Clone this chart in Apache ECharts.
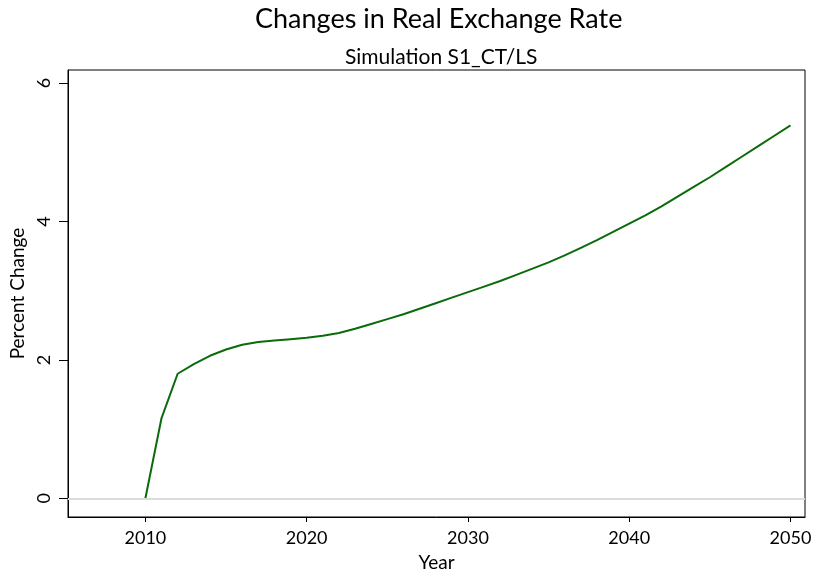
<!DOCTYPE html>
<html>
<head>
<meta charset="utf-8">
<script src="https://cdn.jsdelivr.net/npm/echarts@6/dist/echarts.min.js"></script>
<style>
  html, body { margin: 0; padding: 0; background: #fff; }
  #chart { width: 814px; height: 569px; }
</style>
</head>
<body>
<div id="chart"></div>
<script>
// years 2010..2050
var years = [];
for (var y = 2010; y <= 2050; y++) years.push(y);

// percent change
var rerChange = [
  0, 1.16, 1.80, 1.94, 2.06, 2.15, 2.22, 2.26, 2.28, 2.30,
  2.32, 2.35, 2.39, 2.45, 2.52, 2.59, 2.66, 2.74, 2.82, 2.90,
  2.98, 3.06, 3.14, 3.23, 3.32, 3.41, 3.51, 3.62, 3.73, 3.85,
  3.97, 4.09, 4.22, 4.36, 4.50, 4.64, 4.79, 4.94, 5.09, 5.24,
  5.39
];

var xTicks = [2010, 2020, 2030, 2040, 2050];
var yTicks = [0, 2, 4, 6];

var fontName = 'Lato';

var chart = echarts.init(document.getElementById('chart'));
chart.setOption({
  animation: false,
  backgroundColor: '#fff',
  title: [
    {
      text: 'Changes in Real Exchange Rate',
      left: 250,
      top: 1,
      textStyle: { fontFamily: fontName, fontSize: 27, fontWeight: 'normal', color: '#000' }
    },
    {
      text: 'Simulation S1_CT/LS',
      left: 340,
      top: 42,
      textStyle: { fontFamily: fontName, fontSize: 21, fontWeight: 'normal', color: '#000' }
    }
  ],
  grid: {
    left: 68,
    right: 9,
    top: 70,
    bottom: 52,
    outerBoundsMode: 'none',
    show: true,
    borderColor: '#000',
    borderWidth: 1
  },
  xAxis: {
    type: 'value',
    min: 2005.2,
    max: 2050.9,
    name: 'Year',
    nameLocation: 'middle',
    nameGap: 36,
    nameTextStyle: { fontFamily: fontName, fontSize: 19, color: '#000' },
    axisLine: { show: true, onZero: false, lineStyle: { color: '#000' } },
    axisTick: { show: true, length: 5, customValues: xTicks, lineStyle: { color: '#000' } },
    axisLabel: {
      customValues: xTicks,
      formatter: function (v) { return String(v); },
      fontFamily: fontName, fontSize: 18, color: '#000', margin: 12
    },
    splitLine: { show: false }
  },
  yAxis: {
    type: 'value',
    min: -0.27,
    max: 6.19,
    name: 'Percent Change',
    nameLocation: 'middle',
    nameGap: 40,
    nameTextStyle: { fontFamily: fontName, fontSize: 19, color: '#000' },
    axisLine: { show: true, onZero: false, lineStyle: { color: '#000' } },
    axisTick: { show: true, length: 9, customValues: yTicks, lineStyle: { color: '#000' } },
    axisLabel: {
      customValues: yTicks,
      formatter: function (v) { return String(v); },
      rotate: 90,
      fontFamily: fontName, fontSize: 18, color: '#000', margin: 15
    },
    splitLine: { show: false }
  },
  series: [
    {
      type: 'line',
      data: years.map(function (yr, i) { return [yr, rerChange[i]]; }),
      showSymbol: false,
      lineStyle: { color: '#0a6b0a', width: 2 },
      markLine: {
        silent: true,
        symbol: 'none',
        label: { show: false },
        lineStyle: { color: '#dcdcdc', width: 2, type: 'solid' },
        data: [{ yAxis: 0 }]
      },
      z: 3
    }
  ]
});
</script>
</body>
</html>
